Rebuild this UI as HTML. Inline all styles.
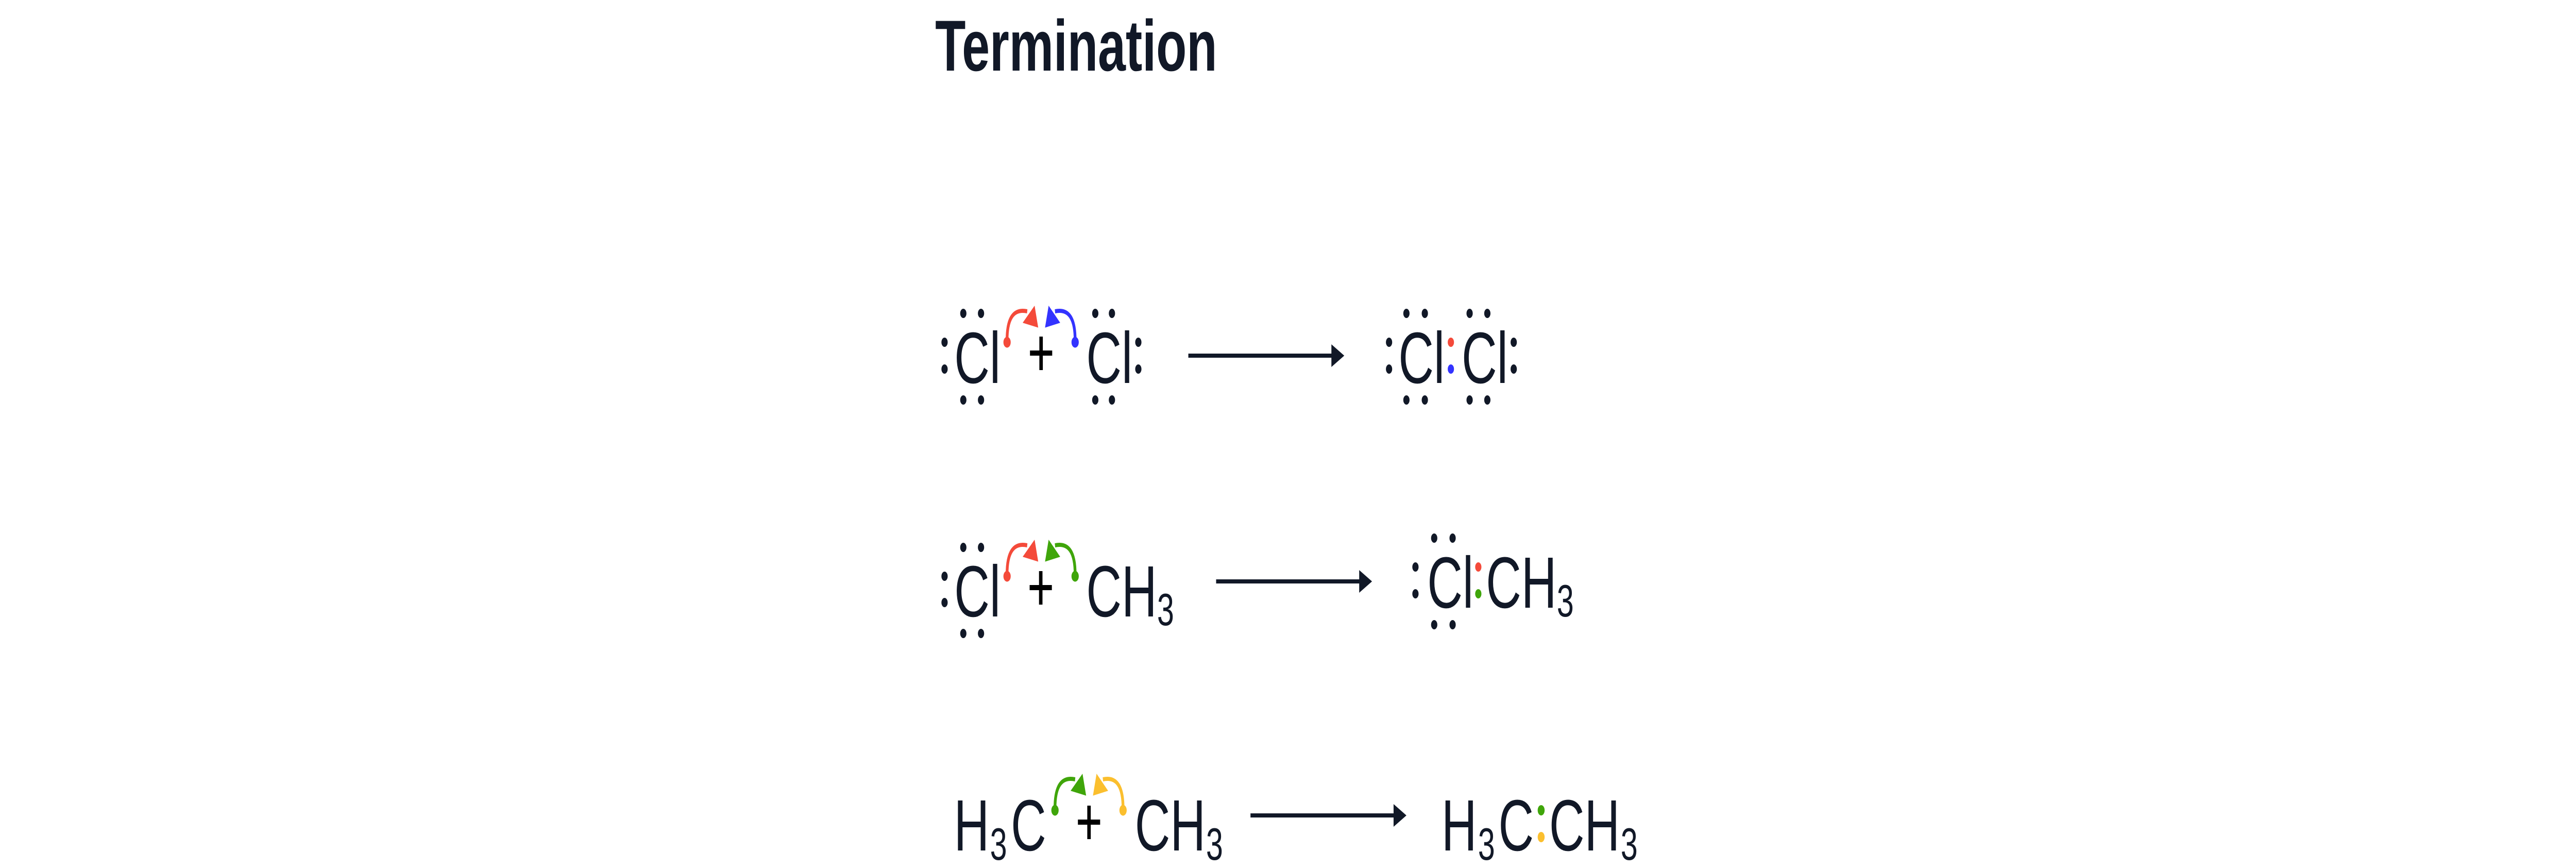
<!DOCTYPE html>
<html><head><meta charset="utf-8"><style>
html,body{margin:0;padding:0;background:#fff;width:100%;height:100%;overflow:hidden;}
svg{display:block;position:absolute;left:0;top:0;width:100vw;height:100vh;}
text{font-family:"Liberation Sans",sans-serif;fill:#111827;}
</style></head><body>
<svg viewBox="0 0 7418 1684" preserveAspectRatio="none" xmlns="http://www.w3.org/2000/svg">
<defs>
  <g id="redarr">
    <path d="M2900 660 C2900 618 2918 598 2958 604" fill="none" stroke-width="8"/>
    <polygon points="2979,594 2946,626 2989,635"/>
    <circle cx="2900" cy="664" r="10"/>
  </g>
  <g id="bluearr">
    <path d="M3096 660 C3096 618 3078 598 3038 604" fill="none" stroke-width="8"/>
    <polygon points="3020,594 3052,626 3010,635"/>
    <circle cx="3096" cy="664" r="10"/>
  </g>
</defs>
<rect width="7418" height="1684" fill="#fff"/>

<text x="2693" y="137" font-size="140" font-weight="bold" textLength="812" lengthAdjust="spacingAndGlyphs">Termination</text>

<!-- Row 1 -->
<g fill="#111827">
  <circle cx="2774" cy="608" r="9"/><circle cx="2825" cy="608" r="9"/>
  <circle cx="2774" cy="776" r="9"/><circle cx="2825" cy="776" r="9"/>
  <circle cx="2720" cy="664" r="9"/><circle cx="2720" cy="716" r="9"/>
  <circle cx="3154" cy="608" r="9"/><circle cx="3202" cy="608" r="9"/>
  <circle cx="3154" cy="776" r="9"/><circle cx="3202" cy="776" r="9"/>
  <circle cx="3278" cy="664" r="9"/><circle cx="3278" cy="716" r="9"/>
  <circle cx="4050" cy="608" r="9"/><circle cx="4103" cy="608" r="9"/>
  <circle cx="4050" cy="776" r="9"/><circle cx="4103" cy="776" r="9"/>
  <circle cx="4000" cy="664" r="9"/><circle cx="4000" cy="716" r="9"/>
  <circle cx="4232" cy="608" r="9"/><circle cx="4283" cy="608" r="9"/>
  <circle cx="4232" cy="776" r="9"/><circle cx="4283" cy="776" r="9"/>
  <circle cx="4359" cy="664" r="9"/><circle cx="4359" cy="716" r="9"/>
</g>
<text x="2748" y="743" font-size="141">Cl</text>
<text x="3128" y="743" font-size="141">Cl</text>
<text x="4027" y="743" font-size="141">Cl</text>
<text x="4209" y="743" font-size="141">Cl</text>
<circle cx="4178" cy="664" r="9" fill="#f44a3a"/>
<circle cx="4178" cy="716" r="9" fill="#3333ff"/>
<g stroke="#000" stroke-width="10"><line x1="2966" y1="685" x2="3030" y2="685"/><line x1="2998" y1="653" x2="2998" y2="718"/></g>
<use href="#redarr" fill="#f44a3a" stroke="#f44a3a"/>
<use href="#bluearr" fill="#3333ff" stroke="#3333ff"/>
<line x1="3422" y1="690" x2="3840" y2="690" stroke="#111827" stroke-width="8"/>
<polygon points="3834,668 3871,690 3834,712" fill="#111827"/>

<!-- Row 2 -->
<g fill="#111827">
  <circle cx="2774" cy="1062" r="9"/><circle cx="2825" cy="1062" r="9"/>
  <circle cx="2774" cy="1229" r="9"/><circle cx="2825" cy="1229" r="9"/>
  <circle cx="2720" cy="1118" r="9"/><circle cx="2720" cy="1169" r="9"/>
  <circle cx="4130" cy="1044" r="9"/><circle cx="4183" cy="1044" r="9"/>
  <circle cx="4130" cy="1212" r="9"/><circle cx="4183" cy="1212" r="9"/>
  <circle cx="4076" cy="1100" r="9"/><circle cx="4076" cy="1152" r="9"/>
</g>
<text x="2748" y="1196" font-size="141">Cl</text>
<text x="3128" y="1196" font-size="141">CH</text>
<text x="3332" y="1213" font-size="88">3</text>
<text x="4110" y="1179" font-size="141">Cl</text>
<text x="4279" y="1179" font-size="141">CH</text>
<text x="4483" y="1196" font-size="88">3</text>
<circle cx="4257" cy="1100" r="9" fill="#f44a3a"/>
<circle cx="4257" cy="1152" r="9" fill="#3fa50a"/>
<g stroke="#000" stroke-width="10"><line x1="2965" y1="1140" x2="3029" y2="1140"/><line x1="2997" y1="1108" x2="2997" y2="1173"/></g>
<use href="#redarr" fill="#f44a3a" stroke="#f44a3a" transform="translate(0,454)"/>
<use href="#bluearr" fill="#3fa50a" stroke="#3fa50a" transform="translate(0,454)"/>
<line x1="3502" y1="1128" x2="3920" y2="1128" stroke="#111827" stroke-width="8"/>
<polygon points="3914,1106 3951,1128 3914,1150" fill="#111827"/>

<!-- Row 3 -->
<text x="2747" y="1650" font-size="141">H</text>
<text x="2851" y="1668" font-size="88">3</text>
<text x="2911" y="1650" font-size="141">C</text>
<text x="3268" y="1650" font-size="141">CH</text>
<text x="3473" y="1668" font-size="88">3</text>
<g stroke="#000" stroke-width="10"><line x1="3104" y1="1595" x2="3168" y2="1595"/><line x1="3136" y1="1563" x2="3136" y2="1628"/></g>
<use href="#redarr" fill="#3fa50a" stroke="#3fa50a" transform="translate(138,908)"/>
<use href="#bluearr" fill="#fbbf2e" stroke="#fbbf2e" transform="translate(138,908)"/>
<line x1="3601" y1="1582" x2="4019" y2="1582" stroke="#111827" stroke-width="8"/>
<polygon points="4013,1560 4050,1582 4013,1604" fill="#111827"/>
<text x="4151" y="1650" font-size="141">H</text>
<text x="4256" y="1668" font-size="88">3</text>
<text x="4315" y="1650" font-size="141">C</text>
<circle cx="4438" cy="1572" r="10" fill="#3fa50a"/>
<circle cx="4438" cy="1624" r="10" fill="#fbbf2e"/>
<text x="4461" y="1650" font-size="141">CH</text>
<text x="4667" y="1668" font-size="88">3</text>
</svg>
</body></html>
